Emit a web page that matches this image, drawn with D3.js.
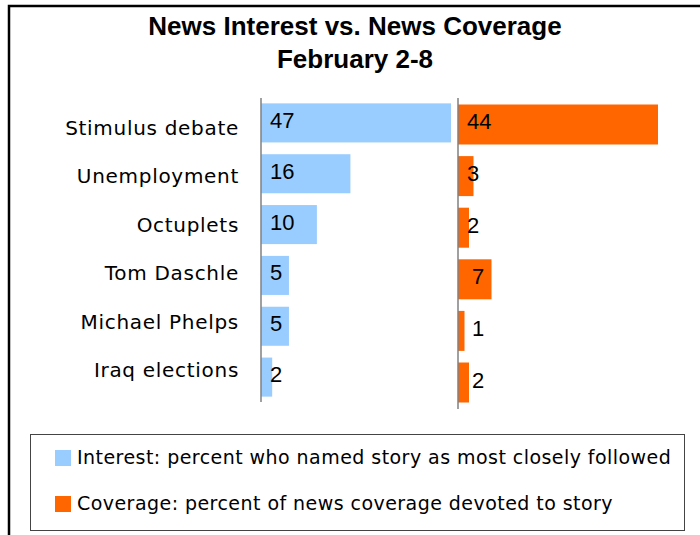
<!DOCTYPE html>
<html>
<head>
<meta charset="utf-8">
<script src="https://cdn.jsdelivr.net/npm/d3@7"></script>
<style>
  body { margin: 0; background: #fff; }
  svg { display: block; }
</style>
</head>
<body>
<script>
// data
var categories = ["Stimulus debate", "Unemployment", "Octuplets", "Tom Daschle", "Michael Phelps", "Iraq elections"];
var interest = [47, 16, 10, 5, 5, 2];
var coverage = [44, 3, 2, 7, 1, 2];
var seriesNames = [
  "Interest: percent who named story as most closely followed",
  "Coverage: percent of news coverage devoted to story"
];
var seriesColors = ["#99CCFF", "#FF6600"];
var titleLines = ["News Interest vs. News Coverage", "February 2-8"];

var width = 700, height = 535;

var svg = d3.select("body").append("svg")
    .attr("width", width)
    .attr("height", height);

// outer frame (right / bottom edges run off the picture)
svg.append("rect")
    .attr("x", 9).attr("y", 6)
    .attr("width", 720).attr("height", 560)
    .attr("fill", "none")
    .attr("stroke", "#000")
    .attr("stroke-width", 2.5);

// title
svg.append("g")
    .selectAll("text")
    .data(titleLines)
    .join("text")
    .attr("x", 355)
    .attr("y", (d, i) => 35 + i * 33)
    .attr("text-anchor", "middle")
    .style("font-family", "'Liberation Sans', Arial, sans-serif")
    .style("font-weight", "bold")
    .style("font-size", "26px")
    .text(d => d);

// scales
var leftAxisX = 261, rightAxisX = 458;

var xInterest = d3.scaleLinear()
    .domain([0, 34])
    .range([leftAxisX, 451])
    .clamp(true);

var xCoverage = d3.scaleLinear()
    .domain([0, 44])
    .range([rightAxisX + 2, 658]);

var yLeft = d3.scaleBand()
    .domain(categories)
    .range([98, 402])
    .paddingInner(0.232)
    .paddingOuter(0.106);

var yRight = d3.scaleBand()
    .domain(categories)
    .range([98, 409])
    .paddingInner(0.225)
    .paddingOuter(0.126);

var yLabel = d3.scalePoint()
    .domain(categories)
    .range([135, 377]);

// category labels
svg.append("g")
    .selectAll("text")
    .data(categories)
    .join("text")
    .attr("x", 239)
    .attr("y", d => yLabel(d))
    .attr("text-anchor", "end")
    .style("font-family", "'DejaVu Sans', Verdana, sans-serif")
    .style("font-size", "20px")
    .style("letter-spacing", "0.7px")
    .text(d => d);

// interest bars
svg.append("g")
    .attr("fill", seriesColors[0])
    .selectAll("rect")
    .data(categories)
    .join("rect")
    .attr("x", leftAxisX)
    .attr("y", d => yLeft(d))
    .attr("width", (d, i) => xInterest(interest[i]) - leftAxisX)
    .attr("height", yLeft.bandwidth());

// coverage bars
svg.append("g")
    .attr("fill", seriesColors[1])
    .selectAll("rect")
    .data(categories)
    .join("rect")
    .attr("x", rightAxisX)
    .attr("y", d => yRight(d))
    .attr("width", (d, i) => xCoverage(coverage[i]) - rightAxisX)
    .attr("height", yRight.bandwidth());

// axis lines
svg.append("line")
    .attr("x1", leftAxisX).attr("x2", leftAxisX)
    .attr("y1", 98).attr("y2", 402)
    .attr("stroke", "#808080").attr("stroke-width", 1.5);

svg.append("line")
    .attr("x1", rightAxisX).attr("x2", rightAxisX)
    .attr("y1", 98).attr("y2", 409)
    .attr("stroke", "#808080").attr("stroke-width", 1.5);

// value labels
var valueFont = "'Liberation Sans', Arial, sans-serif";

svg.append("g")
    .selectAll("text")
    .data(categories)
    .join("text")
    .attr("x", leftAxisX + 9)
    .attr("y", d => yLeft(d) + yLeft.bandwidth() / 2 + 5)
    .style("font-family", valueFont)
    .style("font-size", "22px")
    .text((d, i) => interest[i]);

svg.append("g")
    .selectAll("text")
    .data(categories)
    .join("text")
    .attr("x", (d, i) => rightAxisX + (i < 3 ? 9 : 14))
    .attr("y", d => yRight(d) + yRight.bandwidth() / 2 + 5)
    .style("font-family", valueFont)
    .style("font-size", "22px")
    .text((d, i) => coverage[i]);

// legend
var legend = svg.append("g");

legend.append("rect")
    .attr("x", 30.5).attr("y", 434.5)
    .attr("width", 654).attr("height", 96)
    .attr("fill", "#fff")
    .attr("stroke", "#444")
    .attr("stroke-width", 1);

var legendItem = legend.selectAll("g")
    .data(seriesNames)
    .join("g")
    .attr("transform", (d, i) => `translate(55,${450 + i * 46})`);

legendItem.append("rect")
    .attr("width", 16)
    .attr("height", 16)
    .attr("fill", (d, i) => seriesColors[i]);

legendItem.append("text")
    .attr("x", 22)
    .attr("y", 14)
    .style("font-family", "'DejaVu Sans', Verdana, sans-serif")
    .style("font-size", "19px")
    .style("letter-spacing", "0.45px")
    .text(d => d);
</script>
</body>
</html>
